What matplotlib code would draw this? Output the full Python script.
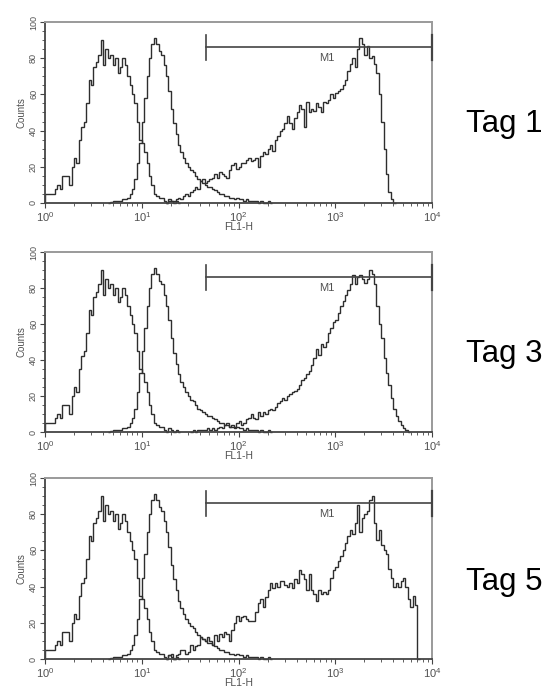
import numpy as np
import matplotlib
matplotlib.use("Agg")
import matplotlib.pyplot as plt
from matplotlib.ticker import MultipleLocator, LogLocator, NullFormatter

plt.rcParams['font.family'] = ['Liberation Sans', 'DejaVu Sans']
plt.rcParams['mathtext.fontset'] = 'custom'
plt.rcParams['mathtext.rm'] = 'Liberation Sans'
plt.rcParams['mathtext.it'] = 'Liberation Sans:italic'

# FL1-H histograms, channel width in log10 decades
DECADES_PER_CHANNEL = 0.025

# unstained control (same in every panel)
unstained_start = 0
unstained = [5, 5, 5, 5, 8, 10, 8, 15, 15, 15, 10, 20, 25, 22, 35, 42, 45, 55, 68, 65,
             75, 78, 82, 90, 76, 85, 80, 82, 76, 80, 72, 75, 80, 76, 70, 65, 60, 55, 45, 35,
             33, 28, 22, 15, 10, 5, 4, 3, 3, 1, 0, 2, 1, 0, 1, 0]

# isotype control (same in every panel)
isotype_start = 26
isotype = [0, 0.5, 1, 1, 1, 1, 2, 2, 3, 5, 8, 13, 22, 33, 45, 58, 70, 80, 88, 91,
           88, 84, 82, 76, 70, 62, 52, 44, 38, 32, 28, 25, 22, 20, 18, 17, 15, 13, 12, 11,
           10, 9, 9, 8, 7, 6, 5, 5, 4, 4, 3, 3, 2, 3, 2, 2, 1, 2, 1, 1,
           1, 1, 0, 1, 0, 0, 1, 0]

day_labels = ["Tag 1", "Tag 3", "Tag 5"]

stained_start = [50, 60, 50]
stained_day1 = [0, 1, 1, 1, 2, 3, 2, 4, 5, 4, 6, 7, 9, 8, 12, 13, 11, 12, 13, 14,
                16, 14, 17, 16, 15, 14, 18, 21, 22, 19, 20, 22, 22, 24, 25, 23, 24, 25, 20, 26,
                28, 27, 30, 32, 29, 35, 37, 40, 41, 44, 48, 44, 41, 47, 50, 54, 52, 42, 56, 50,
                52, 51, 55, 53, 50, 56, 55, 57, 60, 58, 61, 62, 63, 65, 68, 73, 77, 80, 75, 85,
                91, 88, 82, 87, 80, 81, 77, 72, 60, 45, 30, 16, 6, 2, 0]
stained_day3 = [0, 1, 0, 1, 1, 1, 1, 2, 1, 2, 1, 2, 3, 2, 4, 5, 3, 4, 3, 5,
                6, 4, 5, 7, 8, 10, 8, 7, 11, 9, 11, 10, 12, 13, 12, 14, 16, 17, 19, 18,
                20, 21, 22, 23, 24, 26, 29, 30, 32, 34, 37, 41, 46, 43, 49, 47, 50, 55, 58, 61,
                62, 66, 70, 73, 76, 79, 82, 87, 82, 86, 87, 85, 83, 85, 90, 88, 82, 70, 60, 52,
                41, 33, 26, 19, 13, 9, 6, 4, 2, 1, 0]
stained_day5 = [0, 2, 3, 0, 2, 3, 5, 5, 3, 4, 8, 5, 7, 8, 12, 11, 10, 12, 10, 8,
                13, 10, 14, 12, 15, 14, 10, 16, 20, 24, 21, 23, 24, 22, 21, 21, 21, 26, 31, 33,
                29, 34, 38, 42, 39, 42, 40, 43, 43, 41, 40, 42, 39, 44, 42, 49, 47, 44, 38, 47,
                38, 36, 32, 38, 36, 37, 36, 38, 45, 49, 51, 54, 57, 60, 64, 68, 71, 69, 75, 85,
                70, 78, 80, 82, 88, 90, 75, 66, 71, 63, 60, 58, 50, 45, 40, 42, 40, 43, 45, 40,
                33, 29, 35, 30, 0]
stained = [stained_day1, stained_day3, stained_day5]

# M1 gate
gate_low, gate_high, gate_level = 46, 10000, 86

LINE = '#2e2e2e'
FRAME = '#9a9a9a'
TEXT = '#505050'

W, H = 546, 690
fig = plt.figure(figsize=(W / 100, H / 100), dpi=100)

panel_rows = [(22, 203), (252, 432), (478, 659)]
left_px, right_px = 45, 432
label_baselines = [132, 362, 590]


def channel_edges(start, n):
    return 10 ** (np.arange(start, start + n + 1) * DECADES_PER_CHANNEL)


for k, (top, bottom) in enumerate(panel_rows):
    ax = fig.add_axes([left_px / W, 1 - bottom / H,
                       (right_px - left_px) / W, (bottom - top) / H])
    ax.set_xscale('log')
    ax.set_xlim(1, 1e4)
    ax.set_ylim(0, 100)

    for start, vals in ((unstained_start, unstained),
                        (isotype_start, isotype),
                        (stained_start[k], stained[k])):
        ax.stairs(vals, channel_edges(start, len(vals)), color=LINE, lw=1.0,
                  clip_on=False)

    # M1 marker bar
    ax.plot([gate_low, gate_high], [gate_level, gate_level], color='#444444', lw=1.2)
    ax.plot([gate_low, gate_low], [79, 93], color='#444444', lw=1.2)
    ax.plot([gate_high, gate_high], [79, 93], color='#444444', lw=1.6,
            clip_on=False, zorder=5)
    ax.text(820, 80, 'M1', fontsize=8, color=TEXT, ha='center', va='center')

    for side in ('top', 'right'):
        ax.spines[side].set_color(FRAME)
        ax.spines[side].set_linewidth(1.4)
    for side in ('left', 'bottom'):
        ax.spines[side].set_color('#444444')
        ax.spines[side].set_linewidth(1.3)

    ax.yaxis.set_major_locator(MultipleLocator(20))
    ax.yaxis.set_minor_locator(MultipleLocator(5))
    ax.xaxis.set_major_locator(LogLocator(base=10, numticks=10))
    ax.xaxis.set_minor_locator(LogLocator(base=10, subs=np.arange(2, 10), numticks=20))
    ax.xaxis.set_minor_formatter(NullFormatter())

    ax.tick_params(axis='both', which='major', direction='out', length=3.5,
                   width=0.8, color='#444444', labelcolor=TEXT, pad=1.5)
    ax.tick_params(axis='both', which='minor', direction='out', length=2,
                   width=0.6, color='#444444')
    ax.tick_params(axis='x', labelsize=8)
    ax.tick_params(axis='y', labelsize=6.5)
    for lbl in ax.get_yticklabels():
        lbl.set_rotation(90)
        lbl.set_va('center')

    ax.set_ylabel('Counts', fontsize=7, color=TEXT, labelpad=2)
    ax.set_xlabel('FL1-H', fontsize=7.5, color=TEXT, labelpad=-1)

    fig.text(466 / W, 1 - label_baselines[k] / H, day_labels[k], fontsize=22.5,
             color='black', ha='left', va='baseline')

fig.savefig('out.png', dpi=100, facecolor='white')
